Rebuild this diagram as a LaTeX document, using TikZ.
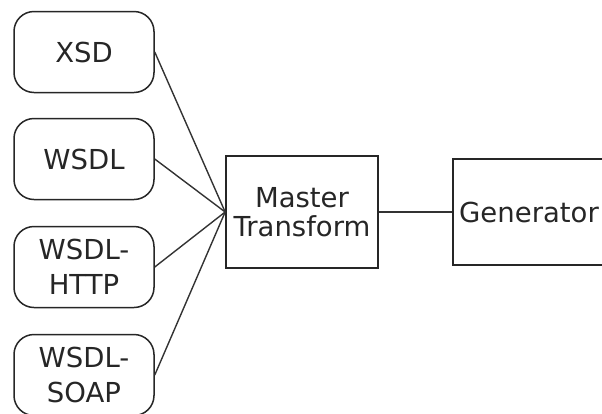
\documentclass[tikz,border=0pt]{standalone}
\usepackage{fontspec}
\setmainfont{DejaVu Sans}
\usepackage{tikz}

\tikzset{
	srcbox/.style={draw=black!85, line width=1.5pt, rounded corners=20pt, minimum width=140pt, minimum height=81pt, align=center, text=black!85, font=\fontsize{27.5}{35}\selectfont},
	procbox/.style={draw=black!85, line width=1.7pt, align=center, text=black!85, font=\fontsize{27.5}{29}\selectfont},
	link/.style={draw=black!80, line width=1.4pt}
}

\begin{document}
\begin{tikzpicture}[x=1pt, y=-1pt]
	\useasboundingbox (0,0) rectangle (602,413);
% draw input boxes
	\node[srcbox] (xsd) at (84, 52) {XSD};
	\node[srcbox] (wsdl) at (84, 159) {WSDL};
	\node[srcbox] (http) at (84, 267) {WSDL-\\HTTP};
	\node[srcbox] (soap) at (84, 375) {WSDL-\\SOAP};
% draw transform and generator
	\node[procbox, minimum width=152pt, minimum height=112pt] (master) at (302, 212) {Master\\Transform};
	\node[procbox, minimum width=152pt, minimum height=106pt] (gen) at (529, 212) {Generator};
% connect everything
	\draw[link] (xsd.east) -- (master.west);
	\draw[link] (wsdl.east) -- (master.west);
	\draw[link] (http.east) -- (master.west);
	\draw[link] (soap.east) -- (master.west);
	\draw[link] (master.east) -- (gen.west);
\end{tikzpicture}
\end{document}
